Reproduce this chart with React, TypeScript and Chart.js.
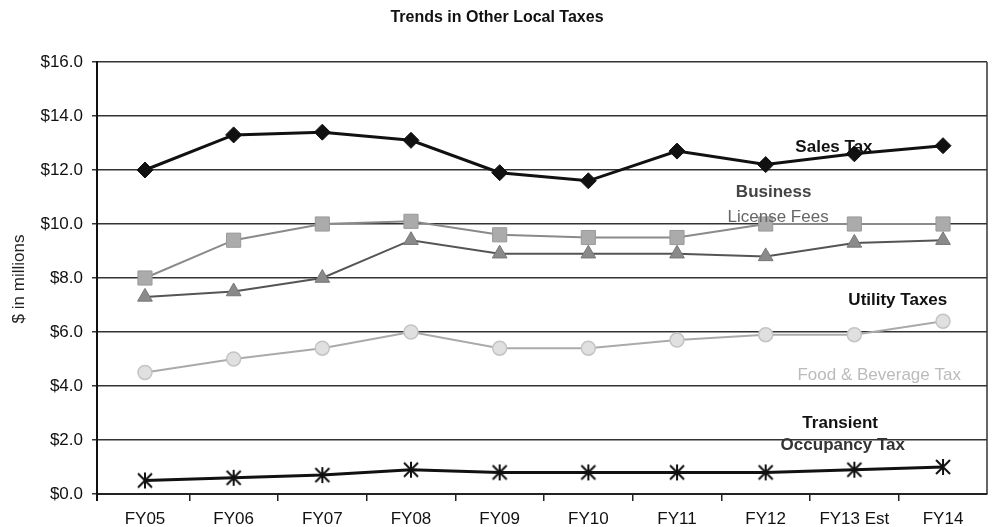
import React, { useEffect, useRef } from "react";
import { Chart, registerables } from "chart.js";

Chart.register(...registerables);

const categories = ["FY05", "FY06", "FY07", "FY08", "FY09", "FY10", "FY11", "FY12", "FY13 Est", "FY14"];
const salesTax = [12.0, 13.3, 13.4, 13.1, 11.9, 11.6, 12.7, 12.2, 12.6, 12.9];
const businessLicenseFees = [8.0, 9.4, 10.0, 10.1, 9.6, 9.5, 9.5, 10.0, 10.0, 10.0];
const utilityTaxes = [7.3, 7.5, 8.0, 9.4, 8.9, 8.9, 8.9, 8.8, 9.3, 9.4];
const foodBeverageTax = [4.5, 5.0, 5.4, 6.0, 5.4, 5.4, 5.7, 5.9, 5.9, 6.4];
const transientOccupancyTax = [0.5, 0.6, 0.7, 0.9, 0.8, 0.8, 0.8, 0.8, 0.9, 1.0];

const chartTitle = "Trends in Other Local Taxes";
const yAxisTitle = "$ in millions";

// series labels anchored in data coordinates (category index, value)
const seriesLabels = [
  { text: "Sales Tax", x: 7.77, y: 12.85, color: "#111", bold: true },
  { text: "Business", x: 7.09, y: 11.19, color: "#444", bold: true },
  { text: "License Fees", x: 7.14, y: 10.26, color: "#666", bold: false },
  { text: "Utility Taxes", x: 8.49, y: 7.19, color: "#111", bold: true },
  { text: "Food & Beverage Tax", x: 8.28, y: 4.41, color: "#bbb", bold: false },
  { text: "Transient", x: 7.84, y: 2.63, color: "#111", bold: true },
  { text: "Occupancy Tax", x: 7.87, y: 1.81, color: "#333", bold: true },
];

const FONT = "Arial, 'Liberation Sans', sans-serif";

const toPoints = (arr: number[]) => arr.map((v, i) => ({ x: i, y: v }));

function makeAsterisk(): HTMLCanvasElement {
  const c = document.createElement("canvas");
  c.width = 18;
  c.height = 18;
  const g = c.getContext("2d")!;
  g.strokeStyle = "#111";
  g.lineWidth = 2;
  g.beginPath();
  g.moveTo(2, 2); g.lineTo(16, 16);
  g.moveTo(16, 2); g.lineTo(2, 16);
  g.moveTo(9, 1); g.lineTo(9, 17);
  g.stroke();
  return c;
}

export default function App() {
  const ref = useRef<HTMLCanvasElement | null>(null);

  useEffect(() => {
    if (!ref.current) return;
    const asterisk = makeAsterisk();

    const decorations = {
      id: "decorations",
      afterDatasetsDraw(chart: any) {
        const ctx = chart.ctx;
        const xs = chart.scales.x;
        const ys = chart.scales.y;
        const area = chart.chartArea;
        ctx.save();
        // right border
        ctx.strokeStyle = "#333";
        ctx.lineWidth = 1.5;
        ctx.beginPath();
        ctx.moveTo(area.right, area.top);
        ctx.lineTo(area.right, area.bottom);
        ctx.stroke();
        // y axis extends slightly below the x axis
        ctx.strokeStyle = "#111";
        ctx.lineWidth = 2;
        ctx.beginPath();
        ctx.moveTo(area.left, area.bottom);
        ctx.lineTo(area.left, area.bottom + 7);
        ctx.stroke();
        // series labels
        ctx.textAlign = "center";
        ctx.textBaseline = "middle";
        for (const l of seriesLabels) {
          ctx.font = `${l.bold ? "bold " : ""}17px ${FONT}`;
          ctx.fillStyle = l.color;
          ctx.fillText(l.text, xs.getPixelForValue(l.x), ys.getPixelForValue(l.y));
        }
        // title
        ctx.font = `bold 16px ${FONT}`;
        ctx.fillStyle = "#111";
        ctx.fillText(chartTitle, 497, 18);
        // y axis title
        ctx.translate(19, 279);
        ctx.rotate(-Math.PI / 2);
        ctx.font = `17px ${FONT}`;
        ctx.fillStyle = "#222";
        ctx.fillText(yAxisTitle, 0, 0);
        ctx.restore();
      },
    };

    const chart = new Chart(ref.current, {
      type: "line",
      data: {
        datasets: [
          {
            label: "Sales Tax",
            data: toPoints(salesTax),
            borderColor: "#111",
            borderWidth: 3,
            pointStyle: "rectRot",
            pointRadius: 8,
            pointBackgroundColor: "#111",
            pointBorderColor: "#111",
            pointBorderWidth: 1,
          },
          {
            label: "Business License Fees",
            data: toPoints(businessLicenseFees),
            borderColor: "#8a8a8a",
            borderWidth: 2,
            pointStyle: "rect",
            pointRadius: 10,
            pointBackgroundColor: "#ababab",
            pointBorderColor: "#9a9a9a",
            pointBorderWidth: 1,
          },
          {
            label: "Utility Taxes",
            data: toPoints(utilityTaxes),
            borderColor: "#555",
            borderWidth: 2,
            pointStyle: "triangle",
            pointRadius: 8.5,
            pointBackgroundColor: "#8a8a8a",
            pointBorderColor: "#777",
            pointBorderWidth: 1,
          },
          {
            label: "Food & Beverage Tax",
            data: toPoints(foodBeverageTax),
            borderColor: "#aaa",
            borderWidth: 2,
            pointStyle: "circle",
            pointRadius: 7,
            pointBackgroundColor: "#e0e0e0",
            pointBorderColor: "#c4c4c4",
            pointBorderWidth: 1.5,
          },
          {
            label: "Transient Occupancy Tax",
            data: toPoints(transientOccupancyTax),
            borderColor: "#111",
            borderWidth: 3,
            pointStyle: asterisk,
            pointRadius: 9,
          },
        ],
      },
      options: {
        responsive: false,
        animation: false,
        layout: { autoPadding: false, padding: { left: 0, top: 62, right: 5, bottom: 0 } },
        plugins: {
          legend: { display: false },
          tooltip: { enabled: false },
          title: { display: false },
        },
        scales: {
          x: {
            type: "linear",
            min: -0.541,
            max: 9.496,
            afterBuildTicks: (s: any) => {
              s.ticks = categories.map((_, i) => ({ value: i }));
            },
            grid: {
              offset: true,
              drawOnChartArea: false,
              drawTicks: true,
              tickLength: 7,
              color: (c: any) => (c.index === 0 ? "rgba(0,0,0,0)" : "#222"),
              lineWidth: 1.5,
            },
            border: { display: true, color: "#222", width: 2 },
            ticks: {
              color: "#111",
              font: { family: FONT, size: 17 },
              padding: 8,
              maxRotation: 0,
              autoSkip: false,
              callback: (v: any) => categories[Math.round(Number(v))] ?? "",
            },
            afterFit: (s: any) => {
              s.height = 33;
              s.paddingLeft = 0;
              s.paddingRight = 0;
            },
          },
          y: {
            min: 0,
            max: 16,
            grid: {
              color: "#333",
              lineWidth: 1.5,
              tickLength: 5,
            },
            border: { display: true, color: "#111", width: 2 },
            ticks: {
              stepSize: 2,
              color: "#111",
              padding: 9,
              font: { family: FONT, size: 17 },
              callback: (v: any) => "$" + Number(v).toFixed(1),
            },
            afterFit: (s: any) => {
              s.width = 97;
              s.paddingTop = 0;
              s.paddingBottom = 0;
            },
          },
        },
      },
      plugins: [decorations],
    });

    return () => chart.destroy();
  }, []);

  return (
    <div style={{ position: "absolute", left: 0, top: 0, width: 992, height: 527, background: "#fff" }}>
      <canvas ref={ref} width={992} height={527} />
    </div>
  );
}
